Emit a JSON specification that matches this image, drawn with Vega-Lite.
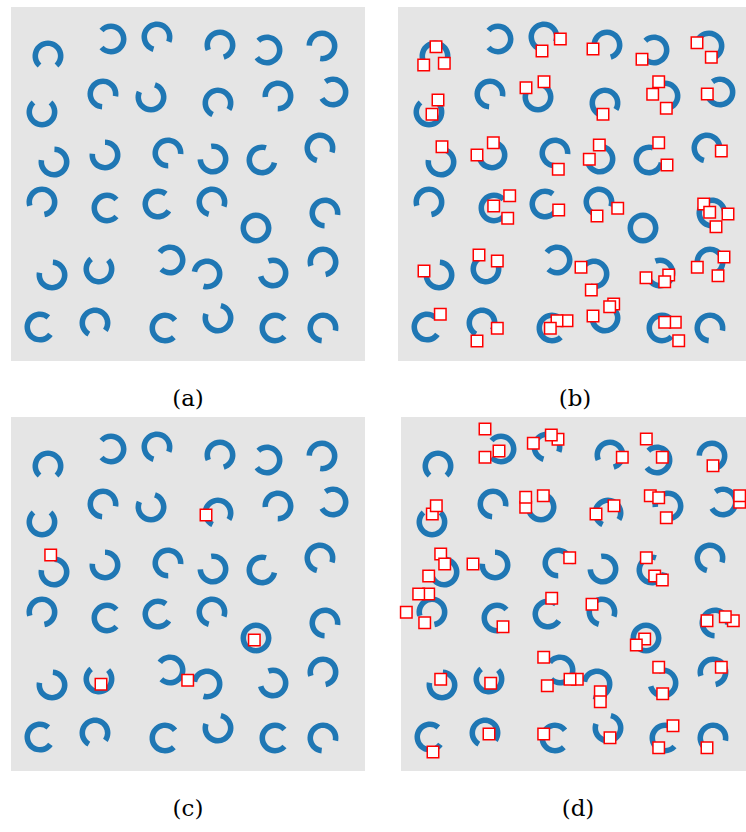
{
  "$schema": "https://vega.github.io/schema/vega-lite/v6.json",
  "background": "white",
  "padding": {"left": 11, "top": 7, "right": 0, "bottom": 0},
  "config": {
    "view": {"fill": "#e5e5e5", "stroke": null},
    "title": {"orient": "bottom", "font": "DejaVu Serif", "fontSize": 23, "fontWeight": "normal", "color": "black", "offset": 27, "anchor": "middle"}
  },
  "datasets": {
    "rings": [
      {"x": 37, "y": 49, "angle": 90, "type": "c"},
      {"x": 100, "y": 32, "angle": 180, "type": "c"},
      {"x": 146, "y": 30, "angle": 64, "type": "c"},
      {"x": 209, "y": 38, "angle": 115, "type": "c"},
      {"x": 256, "y": 43, "angle": 185, "type": "c"},
      {"x": 311, "y": 39, "angle": 140, "type": "c"},
      {"x": 31, "y": 105, "angle": 270, "type": "c"},
      {"x": 92, "y": 87, "angle": 52, "type": "c"},
      {"x": 140, "y": 90, "angle": 246, "type": "c"},
      {"x": 207, "y": 96, "angle": 73, "type": "c"},
      {"x": 267, "y": 89, "angle": 133, "type": "c"},
      {"x": 322, "y": 85, "angle": 192, "type": "c"},
      {"x": 43, "y": 155, "angle": 230, "type": "c"},
      {"x": 94, "y": 148, "angle": 228, "type": "c"},
      {"x": 157, "y": 146, "angle": 47, "type": "c"},
      {"x": 202, "y": 152, "angle": 220, "type": "c"},
      {"x": 251, "y": 153, "angle": 330, "type": "c"},
      {"x": 309, "y": 141, "angle": 62, "type": "c"},
      {"x": 31, "y": 195, "angle": 121, "type": "c"},
      {"x": 96, "y": 201, "angle": 0, "type": "c"},
      {"x": 147, "y": 197, "angle": 350, "type": "c"},
      {"x": 201, "y": 195, "angle": 63, "type": "c"},
      {"x": 245, "y": 221, "angle": 0, "type": "o"},
      {"x": 314, "y": 206, "angle": 50, "type": "c"},
      {"x": 41, "y": 268, "angle": 232, "type": "c"},
      {"x": 88, "y": 262, "angle": 274, "type": "c"},
      {"x": 159, "y": 253, "angle": 175, "type": "c"},
      {"x": 196, "y": 267, "angle": 148, "type": "c"},
      {"x": 262, "y": 266, "angle": 207, "type": "c"},
      {"x": 312, "y": 255, "angle": 120, "type": "c"},
      {"x": 29, "y": 320, "angle": 353, "type": "c"},
      {"x": 84, "y": 316, "angle": 77, "type": "c"},
      {"x": 154, "y": 321, "angle": 4, "type": "c"},
      {"x": 207, "y": 311, "angle": 241, "type": "c"},
      {"x": 264, "y": 321, "angle": 0, "type": "c"},
      {"x": 312, "y": 321, "angle": 54, "type": "c"}
    ],
    "squares": [
      {"panel": "b", "x": 38, "y": 39.7}, {"panel": "b", "x": 25.7, "y": 58}, {"panel": "b", "x": 46.3, "y": 56.3},
      {"panel": "b", "x": 162.3, "y": 32}, {"panel": "b", "x": 144, "y": 44}, {"panel": "b", "x": 195, "y": 42},
      {"panel": "b", "x": 244, "y": 52.3}, {"panel": "b", "x": 299, "y": 35.7}, {"panel": "b", "x": 313.3, "y": 50.3},
      {"panel": "b", "x": 40, "y": 93}, {"panel": "b", "x": 34, "y": 107.3}, {"panel": "b", "x": 128, "y": 80.7},
      {"panel": "b", "x": 146, "y": 74.7}, {"panel": "b", "x": 205, "y": 107.3}, {"panel": "b", "x": 260.7, "y": 74.7},
      {"panel": "b", "x": 254.7, "y": 87.3}, {"panel": "b", "x": 268.3, "y": 101.3}, {"panel": "b", "x": 309.3, "y": 87},
      {"panel": "b", "x": 44, "y": 139.7}, {"panel": "b", "x": 95.3, "y": 135.7}, {"panel": "b", "x": 79, "y": 148},
      {"panel": "b", "x": 160.3, "y": 162.3}, {"panel": "b", "x": 201.3, "y": 138}, {"panel": "b", "x": 191.3, "y": 152.3},
      {"panel": "b", "x": 260.7, "y": 135.7}, {"panel": "b", "x": 269, "y": 158}, {"panel": "b", "x": 323.3, "y": 144},
      {"panel": "b", "x": 111.7, "y": 188.7}, {"panel": "b", "x": 95.7, "y": 199}, {"panel": "b", "x": 109.7, "y": 211.3},
      {"panel": "b", "x": 160.7, "y": 203}, {"panel": "b", "x": 219.7, "y": 201.3}, {"panel": "b", "x": 199, "y": 209},
      {"panel": "b", "x": 305.7, "y": 197}, {"panel": "b", "x": 330, "y": 207}, {"panel": "b", "x": 311.7, "y": 205.3},
      {"panel": "b", "x": 318, "y": 219.7}, {"panel": "b", "x": 26, "y": 264}, {"panel": "b", "x": 81, "y": 248},
      {"panel": "b", "x": 99.3, "y": 254}, {"panel": "b", "x": 183, "y": 260.3}, {"panel": "b", "x": 193.3, "y": 283},
      {"panel": "b", "x": 248, "y": 270.7}, {"panel": "b", "x": 270.7, "y": 268}, {"panel": "b", "x": 266.7, "y": 274.7},
      {"panel": "b", "x": 299.3, "y": 260.3}, {"panel": "b", "x": 326, "y": 250}, {"panel": "b", "x": 320, "y": 268.7},
      {"panel": "b", "x": 42.3, "y": 307.3}, {"panel": "b", "x": 99.3, "y": 321.3}, {"panel": "b", "x": 79, "y": 334},
      {"panel": "b", "x": 169, "y": 313.7}, {"panel": "b", "x": 159, "y": 313.7}, {"panel": "b", "x": 152.3, "y": 321.3},
      {"panel": "b", "x": 215.7, "y": 297}, {"panel": "b", "x": 211.7, "y": 299.7}, {"panel": "b", "x": 195, "y": 309},
      {"panel": "b", "x": 277.3, "y": 315.3}, {"panel": "b", "x": 266.7, "y": 315.3}, {"panel": "b", "x": 280.7, "y": 333.7},
      {"panel": "c", "x": 195, "y": 98}, {"panel": "c", "x": 39.7, "y": 138}, {"panel": "c", "x": 243.3, "y": 223},
      {"panel": "c", "x": 90, "y": 267.3}, {"panel": "c", "x": 176.7, "y": 263.3},
      {"panel": "d", "x": 84, "y": 12}, {"panel": "d", "x": 98, "y": 34}, {"panel": "d", "x": 84, "y": 40.3},
      {"panel": "d", "x": 132.3, "y": 26.3}, {"panel": "d", "x": 157, "y": 22.3}, {"panel": "d", "x": 150.3, "y": 18},
      {"panel": "d", "x": 221.3, "y": 40.3}, {"panel": "d", "x": 245.3, "y": 22}, {"panel": "d", "x": 261.3, "y": 40.3},
      {"panel": "d", "x": 312, "y": 48.7}, {"panel": "d", "x": 31.3, "y": 97}, {"panel": "d", "x": 35.3, "y": 88.7},
      {"panel": "d", "x": 124.7, "y": 90.3}, {"panel": "d", "x": 124.7, "y": 80.3}, {"panel": "d", "x": 142.3, "y": 78.7},
      {"panel": "d", "x": 195, "y": 97}, {"panel": "d", "x": 213, "y": 88.7}, {"panel": "d", "x": 249.3, "y": 78.7},
      {"panel": "d", "x": 257.7, "y": 80.7}, {"panel": "d", "x": 265.3, "y": 100.7}, {"panel": "d", "x": 338.7, "y": 85.3},
      {"panel": "d", "x": 338.7, "y": 78.7}, {"panel": "d", "x": 39.7, "y": 137}, {"panel": "d", "x": 43.7, "y": 147},
      {"panel": "d", "x": 27.7, "y": 159}, {"panel": "d", "x": 72, "y": 147}, {"panel": "d", "x": 168.7, "y": 140.7},
      {"panel": "d", "x": 245.3, "y": 140.7}, {"panel": "d", "x": 253.7, "y": 159}, {"panel": "d", "x": 261.3, "y": 163},
      {"panel": "d", "x": 27.7, "y": 177}, {"panel": "d", "x": 17.7, "y": 177}, {"panel": "d", "x": 5.3, "y": 195.3},
      {"panel": "d", "x": 23.7, "y": 205.7}, {"panel": "d", "x": 102, "y": 209.7}, {"panel": "d", "x": 150.7, "y": 181.3},
      {"panel": "d", "x": 191, "y": 187.3}, {"panel": "d", "x": 243.7, "y": 222}, {"panel": "d", "x": 235.3, "y": 228},
      {"panel": "d", "x": 306, "y": 203.7}, {"panel": "d", "x": 332.3, "y": 203.7}, {"panel": "d", "x": 324.3, "y": 199.7},
      {"panel": "d", "x": 142.7, "y": 240.3}, {"panel": "d", "x": 39.7, "y": 262.3}, {"panel": "d", "x": 89.7, "y": 266.3},
      {"panel": "d", "x": 146.3, "y": 268.7}, {"panel": "d", "x": 176.3, "y": 262.3}, {"panel": "d", "x": 169, "y": 262.3},
      {"panel": "d", "x": 199.3, "y": 274.7}, {"panel": "d", "x": 199.3, "y": 284.7}, {"panel": "d", "x": 257.7, "y": 250.3},
      {"panel": "d", "x": 261.7, "y": 276.7}, {"panel": "d", "x": 320.3, "y": 250.3}, {"panel": "d", "x": 32, "y": 335},
      {"panel": "d", "x": 88, "y": 317}, {"panel": "d", "x": 142.7, "y": 317}, {"panel": "d", "x": 209, "y": 320.7},
      {"panel": "d", "x": 272, "y": 308.7}, {"panel": "d", "x": 257.7, "y": 330.7}, {"panel": "d", "x": 306, "y": 330.7}
    ]
  },
  "vconcat": [
    {
      "spacing": 33,
      "hconcat": [
        {
          "width": 354, "height": 354, "title": "(a)",
          "data": {"name": "rings"},
          "mark": {"type": "point", "filled": true, "opacity": 1, "color": "#1f77b4", "size": 961},
          "encoding": {
            "x": {"field": "x", "type": "quantitative", "scale": {"domain": [0, 354], "nice": false, "zero": false}, "axis": null},
            "y": {"field": "y", "type": "quantitative", "scale": {"domain": [0, 354], "nice": false, "zero": false, "reverse": true}, "axis": null},
            "shape": {"field": "type", "type": "nominal", "scale": {"domain": ["c", "o"], "range": ["M0.743,0.669A1,1,0,1,1,0.743,-0.669L0.476,-0.428A0.64,0.64,0,1,0,0.476,0.428Z", "M1,0A1,1,0,1,1,-1,0A1,1,0,1,1,1,0ZM0.64,0A0.64,0.64,0,1,0,-0.64,0A0.64,0.64,0,1,0,0.64,0Z"]}, "legend": null},
            "angle": {"field": "angle", "type": "quantitative", "scale": {"domain": [0, 360], "range": [0, 360]}}
          }
        },
        {
          "width": 354, "height": 354, "title": "(b)",
          "layer": [
            {
              "data": {"name": "rings"},
              "mark": {"type": "point", "filled": true, "opacity": 1, "color": "#1f77b4", "size": 961},
              "encoding": {
                "x": {"field": "x", "type": "quantitative", "scale": {"domain": [0, 354], "nice": false, "zero": false}, "axis": null},
                "y": {"field": "y", "type": "quantitative", "scale": {"domain": [0, 354], "nice": false, "zero": false, "reverse": true}, "axis": null},
                "shape": {"field": "type", "type": "nominal", "scale": {"domain": ["c", "o"], "range": ["M0.743,0.669A1,1,0,1,1,0.743,-0.669L0.476,-0.428A0.64,0.64,0,1,0,0.476,0.428Z", "M1,0A1,1,0,1,1,-1,0A1,1,0,1,1,1,0ZM0.64,0A0.64,0.64,0,1,0,-0.64,0A0.64,0.64,0,1,0,0.64,0Z"]}, "legend": null},
                "angle": {"field": "angle", "type": "quantitative", "scale": {"domain": [0, 360], "range": [0, 360]}}
              }
            },
            {
              "data": {"name": "squares"},
              "transform": [{"filter": "datum.panel === 'b'"}],
              "mark": {"type": "point", "shape": "square", "filled": true, "fill": "white", "stroke": "#ff0000", "strokeWidth": 1.5, "size": 132, "opacity": 1},
              "encoding": {
                "x": {"field": "x", "type": "quantitative", "axis": null},
                "y": {"field": "y", "type": "quantitative", "axis": null}
              }
            }
          ]
        }
      ]
    },
    {
      "spacing": 32,
      "hconcat": [
        {
          "width": 354, "height": 354, "title": "(c)",
          "layer": [
            {
              "data": {"name": "rings"},
              "mark": {"type": "point", "filled": true, "opacity": 1, "color": "#1f77b4", "size": 961},
              "encoding": {
                "x": {"field": "x", "type": "quantitative", "scale": {"domain": [0, 354], "nice": false, "zero": false}, "axis": null},
                "y": {"field": "y", "type": "quantitative", "scale": {"domain": [0, 354], "nice": false, "zero": false, "reverse": true}, "axis": null},
                "shape": {"field": "type", "type": "nominal", "scale": {"domain": ["c", "o"], "range": ["M0.743,0.669A1,1,0,1,1,0.743,-0.669L0.476,-0.428A0.64,0.64,0,1,0,0.476,0.428Z", "M1,0A1,1,0,1,1,-1,0A1,1,0,1,1,1,0ZM0.64,0A0.64,0.64,0,1,0,-0.64,0A0.64,0.64,0,1,0,0.64,0Z"]}, "legend": null},
                "angle": {"field": "angle", "type": "quantitative", "scale": {"domain": [0, 360], "range": [0, 360]}}
              }
            },
            {
              "data": {"name": "squares"},
              "transform": [{"filter": "datum.panel === 'c'"}],
              "mark": {"type": "point", "shape": "square", "filled": true, "fill": "white", "stroke": "#ff0000", "strokeWidth": 1.5, "size": 132, "opacity": 1},
              "encoding": {
                "x": {"field": "x", "type": "quantitative", "axis": null},
                "y": {"field": "y", "type": "quantitative", "axis": null}
              }
            }
          ]
        },
        {
          "width": 354, "height": 354, "title": "(d)",
          "layer": [
            {
              "data": {"name": "rings"},
              "mark": {"type": "point", "filled": true, "opacity": 1, "color": "#1f77b4", "size": 961},
              "encoding": {
                "x": {"field": "x", "type": "quantitative", "scale": {"domain": [0, 354], "nice": false, "zero": false}, "axis": null},
                "y": {"field": "y", "type": "quantitative", "scale": {"domain": [0, 354], "nice": false, "zero": false, "reverse": true}, "axis": null},
                "shape": {"field": "type", "type": "nominal", "scale": {"domain": ["c", "o"], "range": ["M0.743,0.669A1,1,0,1,1,0.743,-0.669L0.476,-0.428A0.64,0.64,0,1,0,0.476,0.428Z", "M1,0A1,1,0,1,1,-1,0A1,1,0,1,1,1,0ZM0.64,0A0.64,0.64,0,1,0,-0.64,0A0.64,0.64,0,1,0,0.64,0Z"]}, "legend": null},
                "angle": {"field": "angle", "type": "quantitative", "scale": {"domain": [0, 360], "range": [0, 360]}}
              }
            },
            {
              "data": {"name": "squares"},
              "transform": [{"filter": "datum.panel === 'd'"}],
              "mark": {"type": "point", "shape": "square", "filled": true, "fill": "white", "stroke": "#ff0000", "strokeWidth": 1.5, "size": 132, "opacity": 1},
              "encoding": {
                "x": {"field": "x", "type": "quantitative", "axis": null},
                "y": {"field": "y", "type": "quantitative", "axis": null}
              }
            }
          ]
        }
      ]
    }
  ],
  "spacing": 6
}
